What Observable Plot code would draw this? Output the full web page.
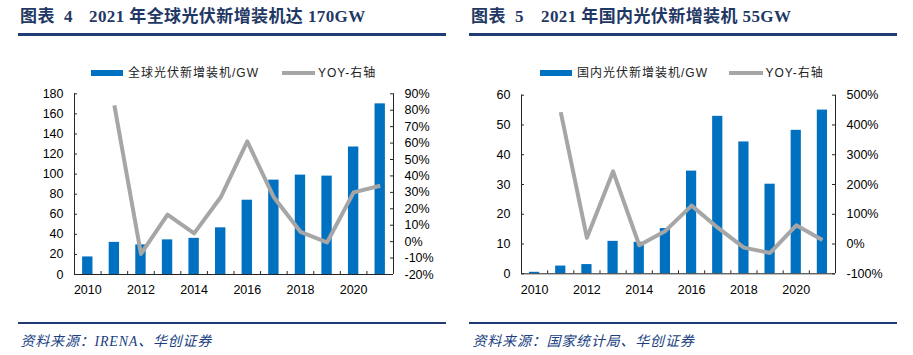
<!DOCTYPE html>
<html><head><meta charset="utf-8">
<script src="https://cdn.jsdelivr.net/npm/d3@7"></script>
<script src="https://cdn.jsdelivr.net/npm/@observablehq/plot@0.6"></script>
<style>
body{margin:0;background:#fff;}
#root{position:relative;width:913px;height:355px;overflow:hidden;background:#fff;}
.title{position:absolute;top:6px;font-family:"Liberation Serif","Noto Sans CJK SC",serif;font-weight:bold;font-size:17px;color:#1F3864;white-space:nowrap;line-height:22px;letter-spacing:0.4px;}
.rule{position:absolute;background:#1F3C74;}
.leg{position:absolute;top:64.5px;font-family:"Liberation Sans","Noto Sans CJK SC",sans-serif;font-size:12px;letter-spacing:1px;line-height:16px;color:#222;white-space:nowrap;}
.sw{position:absolute;}
.cap{position:absolute;top:332.5px;font-family:"Liberation Serif","Noto Sans CJK SC",serif;font-style:italic;font-size:14px;letter-spacing:0.8px;line-height:18px;color:#203F7F;white-space:nowrap;}
.chart{position:absolute;top:80px;}
</style></head>
<body>
<div id="root">
  <div class="title" style="left:20px">图表&nbsp;&nbsp;4</div>
  <div class="title" style="left:89px">2021 年全球光伏新增装机达 170GW</div>
  <div class="rule" style="left:18px;width:428px;top:33px;height:2.5px"></div>
  <div class="sw" style="left:91px;top:70px;width:32px;height:5.5px;background:#0070C0"></div>
  <div class="leg" style="left:128px">全球光伏新增装机/GW</div>
  <div class="sw" style="left:282px;top:71px;width:33px;height:4px;background:#A6A6A6"></div>
  <div class="leg" style="left:318px">YOY-右轴</div>
  <div class="chart" id="c1" style="left:0px"></div>
  <div class="rule" style="left:18px;width:428px;top:321.7px;height:2px"></div>
  <div class="cap" style="left:20.5px">资料来源：IRENA、华创证券</div>

  <div class="title" style="left:471px">图表&nbsp;&nbsp;5</div>
  <div class="title" style="left:541px">2021 年国内光伏新增装机 55GW</div>
  <div class="rule" style="left:469px;width:428px;top:33px;height:2.5px"></div>
  <div class="sw" style="left:540px;top:70px;width:32px;height:5.5px;background:#0070C0"></div>
  <div class="leg" style="left:577px">国内光伏新增装机/GW</div>
  <div class="sw" style="left:729px;top:71px;width:34px;height:4px;background:#A6A6A6"></div>
  <div class="leg" style="left:765.5px">YOY-右轴</div>
  <div class="chart" id="c2" style="left:456px"></div>
  <div class="rule" style="left:469px;width:428px;top:321.7px;height:2px"></div>
  <div class="cap" style="left:472.5px">资料来源：国家统计局、华创证券</div>
</div>
<script>
// ---- data ----
const years = [2010, 2011, 2012, 2013, 2014, 2015, 2016, 2017, 2018, 2019, 2020, 2021];
const xLabelYears = [2010, 2012, 2014, 2016, 2018, 2020];

const globalAdds = [17.5, 32, 29.5, 34.5, 36, 46.5, 74, 94, 99, 98, 127, 170];
const globalYoy  = [null, 83, -7.5, 16.5, 5, 27, 61, 27, 6, -0.5, 30, 34];
const globalTicks = [0, 20, 40, 60, 80, 100, 120, 140, 160, 180];
const globalYoyTicks = [-20, -10, 0, 10, 20, 30, 40, 50, 60, 70, 80, 90];

const chinaAdds = [0.5, 2.6, 3.1, 10.9, 10.6, 15.2, 34.5, 52.9, 44.3, 30.1, 48.2, 55];
const chinaYoy  = [null, 443, 21, 244, -4, 44, 129, 55, -12, -30, 63, 13.5];
const chinaTicks = [0, 10, 20, 30, 40, 50, 60];
const chinaYoyTicks = [-100, 0, 100, 200, 300, 400, 500];

// ---- chart builder ----
const BAR_HALF = 0.195;
const AXIS = "#262626";
function makeChart({bars, yoy, yTicks, pTicks, width, height, ml, mr, mt, mb}) {
  const y0 = yTicks[0], y1 = yTicks[yTicks.length - 1];
  const p0 = pTicks[0], p1 = pTicks[pTicks.length - 1];
  const toY = p => y0 + (p - p0) / (p1 - p0) * (y1 - y0);
  const fromY = y => p0 + (y - y0) / (y1 - y0) * (p1 - p0);
  const barData = years.map((yr, i) => ({year: yr, v: bars[i]}));
  const lineData = years.map((yr, i) => ({year: yr, p: yoy[i]})).filter(d => d.p != null);
  const xmin = years[0] - 0.5, xmax = years[years.length - 1] + 0.5;
  const bounds = years.slice(1).map(y => y - 0.5);
  const plotW = width - ml - mr, plotH = height - mt - mb;
  const pY = pTicks.map(toY);
  return Plot.plot({
    width, height, marginLeft: ml, marginRight: mr, marginTop: mt, marginBottom: mb,
    style: {fontFamily: "'Liberation Sans', Arial, sans-serif", fontSize: "12.5px", color: "#000", background: "transparent", overflow: "visible"},
    x: {type: "linear", domain: [xmin, xmax]},
    y: {domain: [y0, y1]},
    marks: [
      Plot.rectY(barData, {x1: d => d.year - BAR_HALF, x2: d => d.year + BAR_HALF, y1: 0, y2: "v", fill: "#0070C0"}),
      Plot.line(lineData, {x: "year", y: d => toY(d.p), stroke: "#A6A6A6", strokeWidth: 4, strokeLinejoin: "round", strokeLinecap: "butt"}),
      Plot.ruleX([xmin], {stroke: AXIS}),
      Plot.ruleX([xmax], {stroke: AXIS}),
      Plot.ruleY([y0], {stroke: AXIS}),
      Plot.tickY(yTicks, {y: d => d, insetRight: plotW - 3, stroke: AXIS}),
      Plot.tickY(pY, {y: d => d, insetLeft: plotW - 3, stroke: AXIS}),
      Plot.tickX(bounds, {x: d => d, insetTop: plotH - 3, stroke: AXIS}),
      Plot.axisY(yTicks, {anchor: "left", tickSize: 0, tickPadding: 11, label: null, fill: "#000"}),
      Plot.axisY(pY, {anchor: "right", tickSize: 0, tickPadding: 11, label: null, fill: "#000",
        tickFormat: d => Math.round(fromY(d)) + "%"}),
      Plot.axisX(xLabelYears, {anchor: "bottom", tickSize: 0, tickPadding: 11, label: null, fill: "#000",
        tickFormat: d => String(d)})
    ]
  });
}

document.getElementById("c1").appendChild(makeChart({
  bars: globalAdds, yoy: globalYoy, yTicks: globalTicks, pTicks: globalYoyTicks,
  width: 456, height: 220, ml: 74, mr: 63, mt: 13.3, mb: 26
}));
document.getElementById("c2").appendChild(makeChart({
  bars: chinaAdds, yoy: chinaYoy, yTicks: chinaTicks, pTicks: chinaYoyTicks,
  width: 457, height: 220, ml: 65, mr: 78, mt: 14.7, mb: 26.7
}));
</script>
</body></html>
